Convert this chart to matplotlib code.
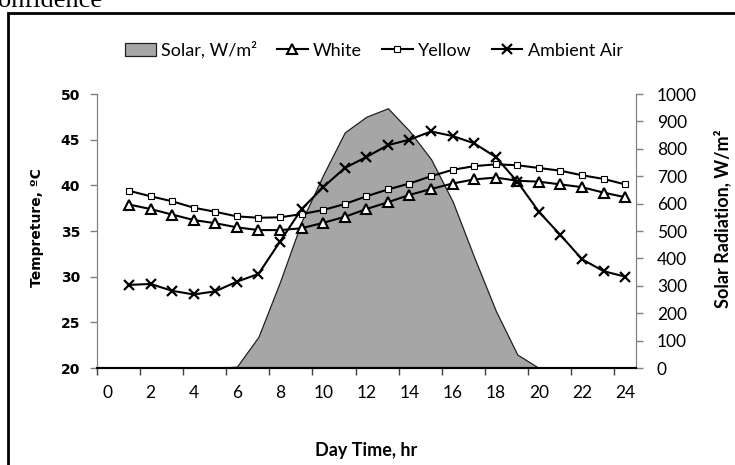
import matplotlib

matplotlib.use("Agg")
import matplotlib.pyplot as plt
from matplotlib.patches import Rectangle

hours = list(range(1, 25))
solar = [0, 0, 0, 0, 0, 5, 114, 315, 535, 705, 860, 917,
         948, 865, 762, 608, 404, 209, 49, 0, 0, 0, 0, 0]
white = [37.9, 37.4, 36.8, 36.2, 35.85, 35.4, 35.1, 35.1, 35.3, 35.9, 36.55, 37.4,
         38.15, 38.95, 39.6, 40.2, 40.65, 40.85, 40.5, 40.4, 40.1, 39.8, 39.2, 38.7]
yellow = [39.4, 38.8, 38.25, 37.55, 37.1, 36.6, 36.45, 36.5, 36.85, 37.3, 37.95, 38.8,
          39.55, 40.2, 41.0, 41.7, 42.1, 42.3, 42.2, 41.9, 41.6, 41.1, 40.7, 40.1]
ambient = [29.1, 29.2, 28.45, 28.05, 28.4, 29.45, 30.3, 33.85, 37.4, 39.8, 41.9, 43.1,
           44.4, 45.0, 45.9, 45.4, 44.6, 43.1, 40.4, 37.1, 34.55, 31.9, 30.6, 30.0]
xticks = list(range(0, 25, 2))
temp_ticks = [20, 25, 30, 35, 40, 45, 50]
solar_ticks = list(range(0, 1001, 100))

W, H = 735, 465
fig = plt.figure(figsize=(W / 100, H / 100), dpi=100)
fig.patch.set_facecolor("white")

# page fragments around the chart
fig.text(-2 / W, 1 - 7 / H, "onfidence", family="Liberation Serif", fontsize=19,
         va="baseline", ha="left")
fig.patches.append(Rectangle((8 / W, -0.2), 1.2, 1.2 - 12.7 / H, transform=fig.transFigure,
                             fill=False, edgecolor="black", linewidth=2.0))

ax = fig.add_axes([96.7 / W, 1 - 368 / H, (636 - 96.7) / W, (368 - 94) / H])
ax2 = ax.twinx()
ax.set_zorder(ax2.get_zorder() + 1)
ax.patch.set_visible(False)

ax2.fill_between(hours, 0, solar, facecolor="#a6a6a6", edgecolor="#202020",
                 linewidth=0.9, label="Solar, W/m²")

ax.plot(hours, white, color="black", linewidth=1.5, marker="^", markersize=7,
        markerfacecolor="white", markeredgecolor="black", markeredgewidth=1.5, label="White")
ax.plot(hours, yellow, color="black", linewidth=1.5, marker="s", markersize=5,
        markerfacecolor="white", markeredgecolor="black", markeredgewidth=0.8, label="Yellow")
ax.plot(hours, ambient, color="black", linewidth=1.5, marker="x", markersize=7.5,
        markeredgewidth=1.6, label="Ambient Air")

ax.set_xlim(-0.5, 24.5)
ax.set_ylim(20, 50)
ax2.set_ylim(0, 1000)

ax.set_xticks(xticks)
ax.set_xticks([t - 0.5 for t in xticks], minor=True)
ax.tick_params(axis="x", which="major", length=0, pad=12, labelsize=12.5, labelfontfamily="Lato")
ax.tick_params(axis="x", which="minor", length=5, width=1, color="#404040", direction="out")
ax.set_yticks(temp_ticks)
ax.tick_params(axis="y", length=5, width=1, color="#808080", pad=7, labelsize=10)
for lab in ax.get_yticklabels():
    lab.set_fontweight("bold")
    lab.set_family("DejaVu Sans")

ax2.set_yticks(solar_ticks)
ax2.tick_params(axis="y", length=5, width=1, color="#808080", pad=10, labelsize=12.5,
                labelfontfamily="Lato")

for a in (ax, ax2):
    a.spines["top"].set_visible(False)
    a.spines["left"].set_color("#808080")
    a.spines["right"].set_color("#808080")
    a.spines["bottom"].set_color("black")
    a.spines["bottom"].set_linewidth(1.5)

ax.set_ylabel("Tempreture, ºC", family="DejaVu Sans", fontweight="bold", fontsize=10)
ax.yaxis.set_label_coords(-0.097, 0.513)
ax2.set_ylabel("Solar Radiation, W/m²", family="Lato", fontweight="bold", fontsize=13)
ax2.yaxis.set_label_coords(1.143, 0.546)
ax.set_xlabel("Day Time, hr", family="Lato", fontweight="bold", fontsize=13)
ax.xaxis.set_label_coords(0.5, -0.27)

handles = ax2.get_legend_handles_labels()[0] + ax.get_legend_handles_labels()[0]
labels = ax2.get_legend_handles_labels()[1] + ax.get_legend_handles_labels()[1]
fig.legend(handles, labels, loc="center", bbox_to_anchor=(374 / W, 1 - 50 / H), ncol=4,
           frameon=False, prop={"family": "Lato", "size": 13}, handlelength=1.7,
           handletextpad=0.3, columnspacing=1.1)

fig.savefig("out.png", dpi=100)
